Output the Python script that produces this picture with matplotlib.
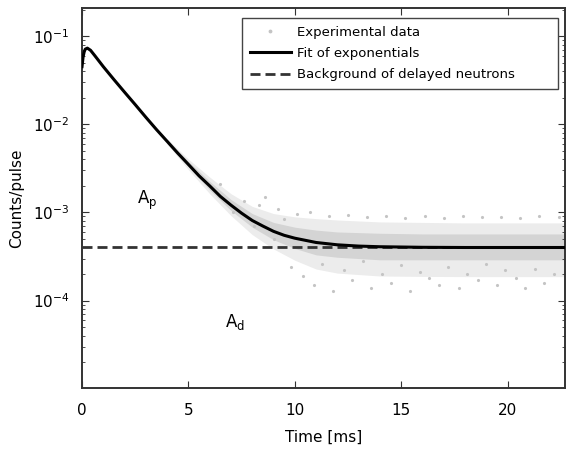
import matplotlib
matplotlib.use("Agg")
import matplotlib.pyplot as plt

# fit of exponentials
t_fit = [0, 0.05, 0.1, 0.15, 0.25, 0.4, 0.6, 1, 1.5, 2, 2.5, 3, 3.5, 4, 4.5, 5,
         5.5, 6, 6.5, 7, 7.5, 8, 8.5, 9, 9.5, 10, 11, 12, 13, 14, 16, 18, 20, 22.7]
c_fit = [0.045, 0.058, 0.066, 0.071, 0.073, 0.069, 0.060, 0.045, 0.0321, 0.0231,
         0.0167, 0.0120, 0.0087, 0.0064, 0.0047, 0.0035, 0.0026, 0.0020, 0.00152,
         0.00121, 0.00098, 0.00081, 0.00070, 0.00061, 0.00055, 0.00051, 0.000456,
         0.000429, 0.000415, 0.000408, 0.000402, 0.0004, 0.0004, 0.0004]

# background of delayed neutrons
background = 4.0e-4

# spread of the experimental data (outer and dense inner envelope)
t_env = [4, 5, 6, 7, 8, 9, 10, 11, 12, 14, 16, 18, 20, 22.7]
outer_hi = [0.00686, 0.00402, 0.00252, 0.00163, 0.00117, 0.00097, 0.00089,
            0.00085, 0.00082, 0.00078, 0.00077, 0.00076, 0.00076, 0.00076]
outer_lo = [0.00597, 0.00305, 0.00163, 0.00092, 0.00056, 0.000385, 0.000287,
            0.000228, 0.000205, 0.00019, 0.000188, 0.000187, 0.000187, 0.000187]
inner_hi = [0.0066, 0.0038, 0.00225, 0.0014, 0.00097, 0.00077, 0.00068,
            0.00063, 0.0006, 0.00058, 0.00057, 0.00057, 0.00057, 0.00057]
inner_lo = [0.0062, 0.0033, 0.0018, 0.00105, 0.00068, 0.00049, 0.00039,
            0.00033, 0.00031, 0.00029, 0.00029, 0.00029, 0.00029, 0.00029]

# individual scattered data points
t_pts = [9.8, 10.4, 10.9, 11.3, 11.8, 12.3, 12.7, 13.2, 13.6, 14.1, 14.5, 15.0,
         15.4, 15.9, 16.3, 16.8, 17.2, 17.7, 18.1, 18.6, 19.0, 19.5, 19.9, 20.4,
         20.8, 21.3, 21.7, 22.2,
         8.6, 9.2, 10.1, 10.7, 11.6, 12.5, 13.4, 14.3, 15.2, 16.1, 17.0, 17.9,
         18.8, 19.7, 20.6, 21.5, 22.4,
         6.5, 7.1, 7.6, 8.1, 8.3, 9.0, 9.5]
c_pts = [2.4e-4, 1.9e-4, 1.5e-4, 2.6e-4, 1.3e-4, 2.2e-4, 1.7e-4, 2.8e-4, 1.4e-4,
         2.0e-4, 1.6e-4, 2.5e-4, 1.3e-4, 2.1e-4, 1.8e-4, 1.5e-4, 2.4e-4, 1.4e-4,
         2.0e-4, 1.7e-4, 2.6e-4, 1.5e-4, 2.2e-4, 1.8e-4, 1.4e-4, 2.3e-4, 1.6e-4,
         2.0e-4,
         1.5e-3, 1.1e-3, 9.5e-4, 1.0e-3, 9.0e-4, 9.3e-4, 8.8e-4, 9.1e-4, 8.7e-4,
         9.0e-4, 8.6e-4, 9.2e-4, 8.8e-4, 8.9e-4, 8.7e-4, 9.0e-4, 8.8e-4,
         2.1e-3, 1.0e-3, 1.35e-3, 7.0e-4, 1.2e-3, 5.0e-4, 8.5e-4]

fig = plt.figure(figsize=(5.68, 4.53), dpi=100)
ax = fig.add_axes([0.1444, 0.1435, 0.8503, 0.8388])

ax.fill_between(t_env, outer_lo, outer_hi, color="#ececec", lw=0, zorder=1)
ax.fill_between(t_env, inner_lo, inner_hi, color="#d4d4d4", lw=0, zorder=1)
ax.plot(t_pts, c_pts, ".", color="#c4c4c4", ms=2.5, zorder=1,
        label="Experimental data")
ax.plot(t_fit, c_fit, "-", color="black", lw=2.2, zorder=3,
        label="Fit of exponentials")
ax.plot([0, 22.7], [background, background], "--", color="#333333", lw=2,
        dashes=(3.6, 1.8), zorder=2, label="Background of delayed neutrons")

ax.text(3.04, 1.38e-3, r"A$_{\rm p}$", fontsize=12, ha="center", va="center")
ax.text(7.18, 5.7e-5, r"A$_{\rm d}$", fontsize=12, ha="center", va="center")

ax.set_yscale("log")
ax.set_xlim(0, 22.7)
ax.set_ylim(1.02e-5, 0.208)
ax.set_xticks([0, 5, 10, 15, 20])
ax.set_yticks([1e-1, 1e-2, 1e-3, 1e-4])
ax.tick_params(which="both", direction="in", top=True, right=True,
               labelsize=11, color="#333333")
ax.tick_params(axis="x", pad=11)
ax.tick_params(axis="y", pad=9)
ax.tick_params(which="major", length=5)
ax.tick_params(which="minor", length=2.5)
for s in ax.spines.values():
    s.set_linewidth(1.4)
    s.set_color("#333333")

ax.set_xlabel("Time [ms]", fontsize=11, labelpad=8)
ax.set_ylabel("Counts/pulse", fontsize=11, labelpad=6)

ax.legend(loc="upper left", bbox_to_anchor=(0.331, 0.0, 0.655, 0.974),
          mode="expand", borderaxespad=0, fontsize=9.5, frameon=True,
          fancybox=False, edgecolor="#444444", framealpha=1,
          handlelength=3.1, handletextpad=0.45, labelspacing=0.62,
          borderpad=0.6, markerscale=1.4)

plt.savefig("out.png", dpi=100)
